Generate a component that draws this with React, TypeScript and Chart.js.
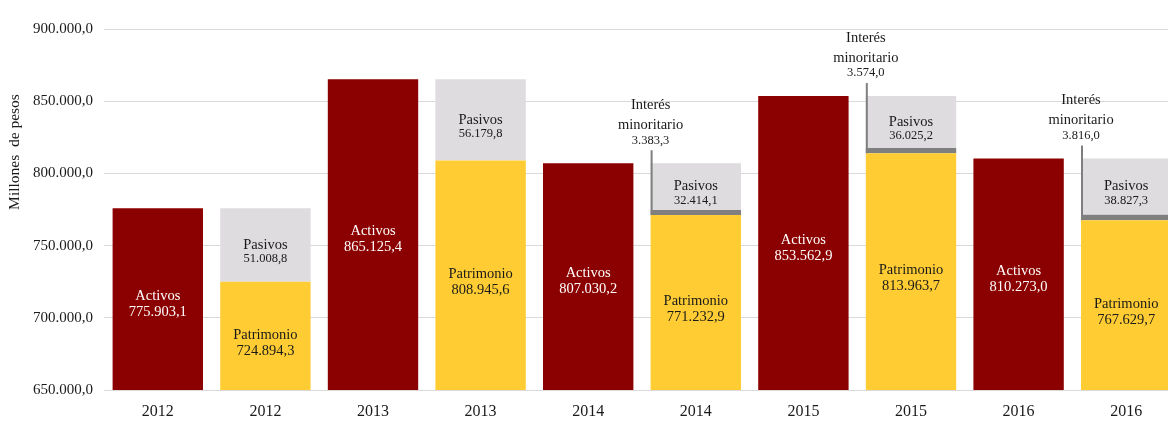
import React, { useEffect, useRef } from "react";
import { Chart, registerables } from "chart.js";

Chart.register(...registerables);

const categories = ["2012", "2012", "2013", "2013", "2014", "2014", "2015", "2015", "2016", "2016"];
const activos = [775903.1, null, 865125.4, null, 807030.2, null, 853562.9, null, 810273.0, null];
const patrimonio = [null, 724894.3, null, 808945.6, null, 771232.9, null, 813963.7, null, 767629.7];
const interes = [null, null, null, null, null, 3383.3, null, 3574.0, null, 3816.0];
const pasivos = [null, 51008.8, null, 56179.8, null, 32414.1, null, 36025.2, null, 38827.3];
const yMin = 650000;
const yMax = 900000;
const yStep = 50000;
const yTitle = "Millones  de pesos";

const SERIF = "'Liberation Serif', 'Times New Roman', serif";

function fmt(v: number): string {
  const s = v.toFixed(1);
  const [i, d] = s.split(".");
  return i.replace(/\B(?=(\d{3})+(?!\d))/g, ".") + "," + d;
}

const labelPlugin = {
  id: "barLabels",
  afterDatasetsDraw(chart: any) {
    const ctx = chart.ctx;
    const area = chart.chartArea;
    ctx.save();
    ctx.textAlign = "center";
    ctx.textBaseline = "middle";
    const pasMeta = chart.getDatasetMeta(3);
    chart.data.datasets.forEach((ds: any, di: number) => {
      const meta = chart.getDatasetMeta(di);
      meta.data.forEach((el: any, i: number) => {
        const v = ds.data[i];
        if (v == null) return;
        const top = Math.min(el.y, el.base);
        const bottom = Math.min(Math.max(el.y, el.base), area.bottom);
        const cy = (top + bottom) / 2;
        if (ds.label === "Activos") {
          ctx.fillStyle = "#ffffff";
          ctx.font = `14.5px ${SERIF}`;
          ctx.fillText("Activos", el.x, cy - 3);
          ctx.fillText(fmt(v), el.x, cy + 13);
        } else if (ds.label === "Patrimonio") {
          ctx.fillStyle = "#1a1a1a";
          ctx.font = `14.5px ${SERIF}`;
          ctx.fillText("Patrimonio", el.x, cy - 1);
          ctx.fillText(fmt(v), el.x, cy + 15);
        } else if (ds.label === "Pasivos") {
          ctx.fillStyle = "#1a1a1a";
          ctx.font = `14.5px ${SERIF}`;
          ctx.fillText("Pasivos", el.x, cy);
          ctx.font = `12.5px ${SERIF}`;
          ctx.fillText(fmt(v), el.x, cy + 14);
        } else if (ds.label === "Interés minoritario") {
          const pe = pasMeta.data[i];
          const stackTop = pe ? pe.y : el.y;
          const lx = el.x - el.width / 2;
          ctx.strokeStyle = "#7f7f7f";
          ctx.lineWidth = 2;
          ctx.beginPath();
          ctx.moveTo(lx + 1, stackTop - 13);
          ctx.lineTo(lx + 1, el.base);
          ctx.stroke();
          ctx.fillStyle = "#1a1a1a";
          ctx.font = `14.5px ${SERIF}`;
          ctx.fillText("Interés", lx, stackTop - 58);
          ctx.fillText("minoritario", lx, stackTop - 38);
          ctx.font = `12.5px ${SERIF}`;
          ctx.fillText(fmt(v), lx, stackTop - 23);
        }
      });
    });
    ctx.restore();
  },
};

const yTitlePlugin = {
  id: "yTitle",
  afterDraw(chart: any) {
    const ctx = chart.ctx;
    ctx.save();
    ctx.translate(15, 152);
    ctx.rotate(-Math.PI / 2);
    ctx.textAlign = "center";
    ctx.textBaseline = "middle";
    ctx.fillStyle = "#1a1a1a";
    ctx.font = `15.5px ${SERIF}`;
    ctx.fillText(yTitle, 0, 0);
    ctx.restore();
  },
};

export default function App() {
  const ref = useRef<HTMLCanvasElement>(null);
  useEffect(() => {
    document.body.style.margin = "0";
    const yTicks: number[] = [];
    for (let t = yMin; t <= yMax; t += yStep) yTicks.push(t);
    const chart = new Chart(ref.current!, {
      type: "bar",
      data: {
        labels: categories,
        datasets: [
          { label: "Activos", data: activos, backgroundColor: "#8B0000" },
          { label: "Patrimonio", data: patrimonio, backgroundColor: "#FFCD33" },
          { label: "Interés minoritario", data: interes, backgroundColor: "#7F7F7F" },
          { label: "Pasivos", data: pasivos, backgroundColor: "#DEDCDE" },
        ] as any,
      },
      options: {
        responsive: false,
        animation: false,
        datasets: { bar: { barPercentage: 0.84, categoryPercentage: 1, skipNull: false } } as any,
        layout: { padding: { top: 29, left: 0, right: 0, bottom: 0 } },
        plugins: { legend: { display: false }, tooltip: { enabled: false } },
        scales: {
          x: {
            stacked: true,
            grid: { display: false },
            border: { display: false },
            ticks: { color: "#1a1a1a", font: { family: SERIF, size: 16 }, padding: 4 },
            afterFit: (s: any) => { s.height = 31; },
          },
          y: {
            stacked: true,
            min: yMin,
            max: yMax,
            afterBuildTicks: (s: any) => { s.ticks = yTicks.map((v) => ({ value: v })); },
            grid: { color: "#D9D9D9", drawTicks: false, lineWidth: 1 },
            border: { display: false },
            ticks: {
              color: "#1a1a1a",
              font: { family: SERIF, size: 15 },
              padding: 11,
              callback: (v: any) => fmt(Number(v)),
            },
            title: { display: false },
            afterFit: (s: any) => { s.width = 104; },
          },
        },
      },
      plugins: [labelPlugin, yTitlePlugin],
    });
    return () => chart.destroy();
  }, []);
  return (
    <div style={{ width: 1168, height: 421, overflow: "hidden", background: "#fff" }}>
      <canvas ref={ref} width={1180} height={421} style={{ display: "block" }} />
    </div>
  );
}
